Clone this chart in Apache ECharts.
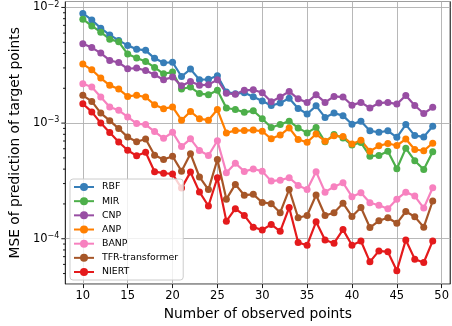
<!DOCTYPE html>
<html>
<head>
<meta charset="utf-8">
<script src="https://cdn.jsdelivr.net/npm/echarts@6/dist/echarts.min.js"></script>
<style>
  html, body { margin: 0; padding: 0; background: #fff; }
  #chart { width: 452px; height: 326px; }
</style>
</head>
<body>
<div id="chart"></div>
<script>
// number of observed points
var points = [10, 11, 12, 13, 14, 15, 16, 17, 18, 19, 20, 21, 22, 23, 24, 25, 26, 27, 28, 29,
              30, 31, 32, 33, 34, 35, 36, 37, 38, 39, 40, 41, 42, 43, 44, 45, 46, 47, 48, 49];

var rbf = [8.88e-3, 7.80e-3, 6.62e-3, 5.79e-3, 5.19e-3, 4.70e-3, 4.36e-3, 4.26e-3, 3.63e-3, 3.32e-3,
           3.36e-3, 2.53e-3, 2.93e-3, 2.37e-3, 2.39e-3, 2.57e-3, 1.86e-3, 1.79e-3, 1.83e-3, 1.69e-3,
           1.55e-3, 1.42e-3, 1.49e-3, 1.64e-3, 1.34e-3, 1.20e-3, 1.41e-3, 1.12e-3, 1.22e-3, 1.16e-3,
           9.78e-4, 1.04e-3, 8.58e-4, 8.33e-4, 8.58e-4, 7.53e-4, 9.71e-4, 7.80e-4, 7.60e-4, 9.38e-4];
var mir = [7.91e-3, 6.93e-3, 6.11e-3, 5.32e-3, 5.04e-3, 3.95e-3, 3.65e-3, 3.41e-3, 3.03e-3, 2.67e-3,
           2.76e-3, 1.97e-3, 2.05e-3, 1.80e-3, 1.76e-3, 1.92e-3, 1.35e-3, 1.31e-3, 1.24e-3, 1.28e-3,
           1.09e-3, 9.15e-4, 9.71e-4, 1.04e-3, 9.09e-4, 8.23e-4, 9.18e-4, 6.90e-4, 7.96e-4, 7.45e-4,
           6.46e-4, 6.79e-4, 5.17e-4, 5.25e-4, 5.71e-4, 4.03e-4, 6.05e-4, 4.73e-4, 3.97e-4, 5.65e-4];
var cnp = [4.85e-3, 4.50e-3, 4.03e-3, 3.48e-3, 3.34e-3, 2.95e-3, 2.99e-3, 2.85e-3, 2.62e-3, 2.37e-3,
           2.50e-3, 2.10e-3, 2.29e-3, 2.12e-3, 2.15e-3, 2.37e-3, 1.81e-3, 1.78e-3, 1.92e-3, 1.94e-3,
           1.83e-3, 1.53e-3, 1.68e-3, 1.88e-3, 1.62e-3, 1.51e-3, 1.76e-3, 1.51e-3, 1.70e-3, 1.68e-3,
           1.43e-3, 1.51e-3, 1.35e-3, 1.49e-3, 1.51e-3, 1.46e-3, 1.73e-3, 1.42e-3, 1.21e-3, 1.37e-3];
var anp = [3.24e-3, 2.89e-3, 2.45e-3, 2.12e-3, 1.97e-3, 1.70e-3, 1.74e-3, 1.68e-3, 1.44e-3, 1.33e-3,
           1.38e-3, 1.06e-3, 1.26e-3, 1.09e-3, 1.06e-3, 1.31e-3, 8.23e-4, 8.62e-4, 8.62e-4, 8.70e-4,
           8.50e-4, 7.31e-4, 7.88e-4, 9.09e-4, 7.21e-4, 6.83e-4, 8.04e-4, 6.97e-4, 7.76e-4, 7.65e-4,
           6.59e-4, 7.11e-4, 5.71e-4, 6.36e-4, 6.66e-4, 6.40e-4, 7.28e-4, 5.91e-4, 5.77e-4, 6.70e-4];
var banp = [2.19e-3, 2.05e-3, 1.68e-3, 1.38e-3, 1.29e-3, 1.13e-3, 9.90e-4, 9.71e-4, 8.45e-4, 7.38e-4,
            8.33e-4, 6.27e-4, 7.31e-4, 5.79e-4, 5.25e-4, 7.03e-4, 3.72e-4, 4.50e-4, 3.82e-4, 4.01e-4,
            3.84e-4, 3.15e-4, 3.21e-4, 3.37e-4, 2.89e-4, 2.66e-4, 3.80e-4, 2.53e-4, 2.82e-4, 3.05e-4,
            2.31e-4, 2.50e-4, 2.05e-4, 1.95e-4, 1.82e-4, 2.20e-4, 2.53e-4, 2.34e-4, 1.84e-4, 2.76e-4];
var tfr = [1.74e-3, 1.54e-3, 1.22e-3, 1.05e-3, 8.97e-4, 7.57e-4, 6.90e-4, 7.28e-4, 5.27e-4, 4.85e-4,
           5.17e-4, 3.84e-4, 5.44e-4, 3.42e-4, 2.66e-4, 4.85e-4, 2.20e-4, 2.95e-4, 2.38e-4, 2.42e-4,
           2.06e-4, 2.01e-4, 1.68e-4, 2.67e-4, 1.52e-4, 1.59e-4, 2.39e-4, 1.59e-4, 1.68e-4, 2.03e-4,
           1.56e-4, 1.86e-4, 1.25e-4, 1.43e-4, 1.52e-4, 1.36e-4, 1.72e-4, 1.55e-4, 1.26e-4, 2.12e-4];
var niert = [1.47e-3, 1.25e-3, 1.00e-3, 8.28e-4, 6.86e-4, 5.83e-4, 5.21e-4, 5.60e-4, 3.80e-4, 3.69e-4,
             3.63e-4, 2.74e-4, 3.77e-4, 2.54e-4, 1.92e-4, 3.37e-4, 1.42e-4, 1.82e-4, 1.59e-4, 1.26e-4,
             1.19e-4, 1.33e-4, 1.16e-4, 1.86e-4, 9.27e-5, 8.79e-5, 1.40e-4, 9.77e-5, 9.15e-5, 1.20e-4,
             8.79e-5, 9.57e-5, 6.31e-5, 7.85e-5, 7.70e-5, 5.28e-5, 9.77e-5, 6.66e-5, 6.23e-5, 9.57e-5];

var seriesNames = ['RBF', 'MIR', 'CNP', 'ANP', 'BANP', 'TFR-transformer', 'NIERT'];
var seriesValues = [rbf, mir, cnp, anp, banp, tfr, niert];
var colors = ['#377eb8', '#4daf4a', '#984ea3', '#ff7f00', '#f781bf', '#a65628', '#e41a1c'];

var xTicks = [10, 15, 20, 25, 30, 35, 40, 45, 50];
var yMajorTicks = [1e-4, 1e-3, 1e-2];
var yMinorTicks = [5e-5, 6e-5, 7e-5, 8e-5, 9e-5,
                   2e-4, 3e-4, 4e-4, 5e-4, 6e-4, 7e-4, 8e-4, 9e-4,
                   2e-3, 3e-3, 4e-3, 5e-3, 6e-3, 7e-3, 8e-3, 9e-3];

var xMin = 8.05, xMax = 50.95;
var yMin = 4.053e-5, yMax = 1.126e-2;
var font = 'DejaVu Sans';

var myChart = echarts.init(document.getElementById('chart'), null, { renderer: 'canvas' });

var series = seriesNames.map(function (name, i) {
  return {
    name: name,
    type: 'line',
    data: points.map(function (p, j) { return [p, seriesValues[i][j]]; }),
    symbol: 'circle',
    symbolSize: 7,
    showSymbol: true,
    itemStyle: { color: colors[i] },
    lineStyle: { color: colors[i], width: 2.2 },
    emphasis: { disabled: true }
  };
});

// y ticks drawn at the left spine (major and minor, matplotlib style)
var tickData = yMajorTicks.map(function (v) { return [xMin, v, 4]; })
  .concat(yMinorTicks.map(function (v) { return [xMin, v, 2.3]; }));
series.push({
  type: 'custom',
  name: 'yticks',
  silent: true,
  clip: false,
  data: tickData,
  encode: { x: 0, y: 1 },
  renderItem: function (params, api) {
    var p = api.coord([api.value(0), api.value(1)]);
    var len = api.value(2);
    return {
      type: 'line',
      shape: { x1: p[0] - len, y1: p[1], x2: p[0], y2: p[1] },
      style: { stroke: '#000', lineWidth: 0.9 }
    };
  }
});

var option = {
  animation: false,
  grid: {
    left: 65, right: -3, top: 1.5, bottom: 41,
    show: true, borderColor: '#000', borderWidth: 1, backgroundColor: 'transparent'
  },
  legend: {
    data: seriesNames,
    orient: 'vertical',
    left: 70, top: 179,
    itemWidth: 20, itemHeight: 10, itemGap: 0.17,
    padding: [1, 5, 1, 3],
    backgroundColor: 'rgba(255,255,255,0.8)',
    borderColor: '#cccccc', borderWidth: 1, borderRadius: 3,
    textStyle: { fontFamily: font, fontSize: 9.4, color: '#000', lineHeight: 14, padding: [0, 0, 0, 3] }
  },
  xAxis: {
    type: 'value',
    min: xMin, max: xMax,
    splitNumber: 8,
    name: 'Number of observed points',
    nameLocation: 'middle',
    nameGap: 21,
    nameTextStyle: { fontFamily: font, fontSize: 13.8, color: '#000', verticalAlign: 'top' },
    axisLine: { show: false },
    axisTick: { show: true, customValues: xTicks, length: 4, lineStyle: { color: '#000', width: 0.9 } },
    axisLabel: { customValues: xTicks, margin: 6, fontFamily: font, fontSize: 11.5, color: '#000' },
    splitLine: { show: true, lineStyle: { color: '#b0b0b0', width: 0.9 } }
  },
  yAxis: {
    type: 'log',
    logBase: 10,
    min: yMin, max: yMax,
    name: 'MSE of prediction of target points',
    nameLocation: 'middle',
    nameGap: 35,
    nameTextStyle: { fontFamily: font, fontSize: 13.8, color: '#000' },
    axisLine: { show: false },
    axisTick: { show: false },
    axisLabel: {
      showMinLabel: false, showMaxLabel: false,
      margin: 6,
      formatter: function (v) {
        var e = Math.round(Math.log(v) / Math.LN10);
        return '{b|10}{e|\u2212' + (-e) + '}';
      },
      rich: {
        b: { fontFamily: font, fontSize: 11.5, color: '#000', lineHeight: 14 },
        e: { fontFamily: font, fontSize: 8, color: '#000', lineHeight: 10, verticalAlign: 'top' }
      }
    },
    splitLine: { show: true, lineStyle: { color: '#b0b0b0', width: 0.9 } },
    minorSplitLine: { show: false }
  },
  series: series
};

myChart.setOption(option);
</script>
</body>
</html>
